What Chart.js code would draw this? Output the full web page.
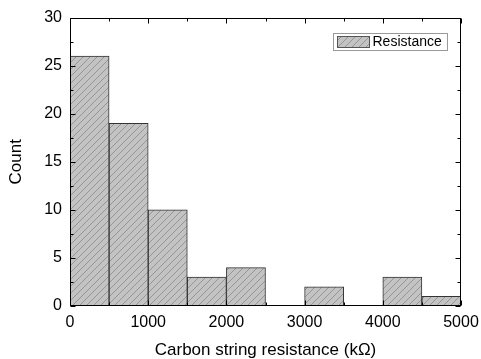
<!DOCTYPE html>
<html>
<head>
<meta charset="utf-8">
<script src="https://cdn.jsdelivr.net/npm/chart.js@4"></script>
<style>
  html, body { margin: 0; padding: 0; background: #fff; }
  #wrap { width: 481px; height: 359px; }
</style>
</head>
<body>
<div id="wrap"><canvas id="c"></canvas></div>
<script>
// histogram bins (kΩ), bin width 500
const binStarts = [0, 500, 1000, 1500, 2000, 2500, 3000, 3500, 4000, 4500];
const counts = [26, 19, 10, 3, 4, 0, 2, 0, 3, 1];
const xTicks = [0, 1000, 2000, 3000, 4000, 5000];
const yTicks = [0, 5, 10, 15, 20, 25, 30];
const binWidth = 500;

const FONT = "'Liberation Sans', Arial, sans-serif";

function hatchPattern(ctx) {
  const s = 7;
  const p = document.createElement("canvas");
  p.width = s; p.height = s;
  const g = p.getContext("2d");
  g.fillStyle = "#c3c3c3";
  g.fillRect(0, 0, s, s);
  g.strokeStyle = "#858585";
  g.lineWidth = 0.75;
  g.beginPath();
  g.moveTo(0, s); g.lineTo(s, 0);
  g.moveTo(-s / 2, s / 2); g.lineTo(s / 2, -s / 2);
  g.moveTo(s / 2, s + s / 2); g.lineTo(s + s / 2, s / 2);
  g.stroke();
  return ctx.createPattern(p, "repeat");
}

const canvas = document.getElementById("c");
const hatch = hatchPattern(canvas.getContext("2d"));

// frame, inward ticks and legend box
const framePlugin = {
  id: "frame",
  afterDatasetsDraw(chart) {
    const { ctx, chartArea: a, scales } = chart;
    const xs = scales.x, ys = scales.y;
    ctx.save();
    ctx.strokeStyle = "#000";
    ctx.lineWidth = 1;
    const L = Math.round(a.left) + 0.5, R = Math.round(a.right) - 0.5;
    const T = Math.round(a.top) + 0.5, B = Math.round(a.bottom) - 0.5;
    ctx.strokeRect(L, T, R - L, B - T);
    ctx.beginPath();
    for (let v = 0; v <= 5000; v += 500) {
      const px = Math.round(xs.getPixelForValue(v)) + 0.5;
      const len = v % 1000 === 0 ? 5 : 3;
      ctx.moveTo(px, B); ctx.lineTo(px, B - len);
      ctx.moveTo(px, T); ctx.lineTo(px, T + len);
    }
    for (let v = 0; v <= 30; v += 2.5) {
      const py = Math.round(ys.getPixelForValue(v)) + 0.5;
      const len = v % 5 === 0 ? 5 : 3;
      ctx.moveTo(L, py); ctx.lineTo(L + len, py);
      ctx.moveTo(R, py); ctx.lineTo(R - len, py);
    }
    ctx.stroke();

    // legend
    const ds = chart.data.datasets[0];
    const bx = 333.5, by = 33.5, bw = 114, bh = 17;
    ctx.strokeStyle = "#999";
    ctx.strokeRect(bx, by, bw, bh);
    ctx.fillStyle = hatch;
    ctx.fillRect(bx + 4, by + 3, 32, 11);
    ctx.strokeStyle = "#555";
    ctx.strokeRect(bx + 4, by + 3, 32, 11);
    ctx.fillStyle = "#000";
    ctx.font = "14px " + FONT;
    ctx.textBaseline = "middle";
    ctx.textAlign = "left";
    ctx.fillText(ds.label, bx + 39, by + bh / 2 + 0.5);
    ctx.restore();
  }
};

new Chart(canvas, {
  type: "bar",
  data: {
    datasets: [
      {
        label: "Resistance",
        data: binStarts.map((s, i) => ({ x: s + binWidth / 2, y: counts[i] })),
        backgroundColor: hatch,
        borderColor: "#333",
        borderWidth: 1,
        borderSkipped: "bottom",
        barPercentage: 1,
        categoryPercentage: 1,
      },
    ],
  },
  plugins: [framePlugin],
  options: {
    responsive: true,
    maintainAspectRatio: false,
    animation: false,
    events: [],
    layout: { padding: { top: 17, right: 20, left: 0, bottom: 0 } },
    plugins: {
      legend: { display: false },
      tooltip: { enabled: false },
    },
    scales: {
      x: {
        type: "linear",
        offset: false,
        min: 0,
        max: 5000,
        afterBuildTicks: (s) => { s.ticks = xTicks.map((v) => ({ value: v })); },
        afterFit: (s) => { s.height = 53; s.paddingLeft = 0; s.paddingRight = 0; },
        grid: { display: false, drawTicks: false },
        border: { display: false },
        ticks: {
          padding: 7,
          color: "#000",
          font: { family: FONT, size: 16 },
          maxRotation: 0,
          callback: (v) => String(v),
        },
        title: {
          display: true,
          text: "Carbon string resistance (kΩ)",
          color: "#000",
          font: { family: FONT, size: 17, lineHeight: 1 },
          padding: { top: 0, bottom: 0 },
        },
      },
      y: {
        min: 0,
        max: 30,
        afterBuildTicks: (s) => { s.ticks = yTicks.map((v) => ({ value: v })); },
        afterFit: (s) => { s.width = 70; },
        grid: { display: false, drawTicks: false },
        border: { display: false },
        ticks: {
          padding: 8,
          color: "#000",
          font: { family: FONT, size: 16 },
        },
        title: {
          display: true,
          text: "Count",
          color: "#000",
          font: { family: FONT, size: 17, lineHeight: 1 },
          padding: { top: 8, bottom: 0 },
        },
      },
    },
  },
});
</script>
</body>
</html>
